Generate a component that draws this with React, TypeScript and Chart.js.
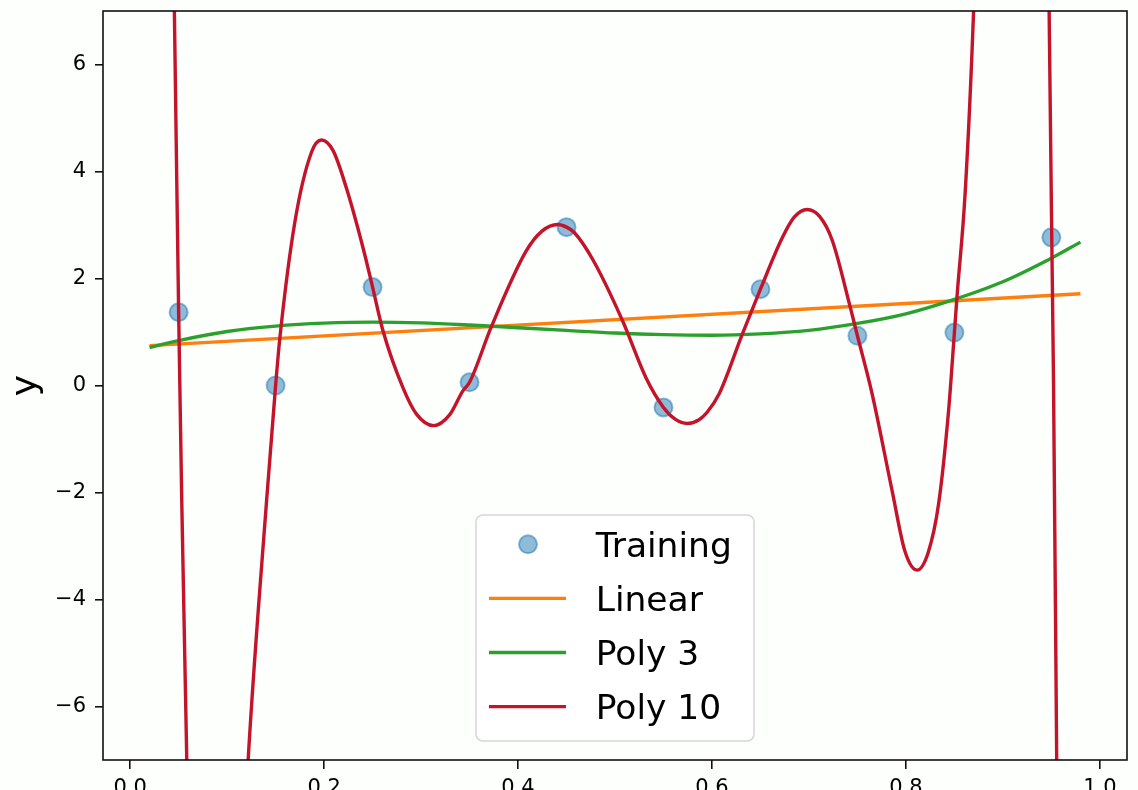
import React, { useEffect, useRef } from "react";
import { Chart, registerables } from "chart.js";

Chart.register(...registerables);

// ---- data ----
const trainX = [0.05, 0.15, 0.25, 0.35, 0.45, 0.55, 0.65, 0.75, 0.85, 0.95];
const trainY = [1.37, 0.0, 1.84, 0.06, 2.96, -0.41, 1.8, 0.93, 0.99, 2.77];

const linearX = [0.02, 0.98];
const linearY = [0.745, 1.715];

const poly3X = [0.02, 0.05, 0.1, 0.15, 0.2, 0.25, 0.3, 0.35, 0.4, 0.45, 0.5, 0.55, 0.6, 0.65, 0.7, 0.75, 0.8, 0.85, 0.9, 0.95, 0.98];
const poly3Y = [0.71, 0.84, 1.01, 1.11, 1.165, 1.185, 1.17, 1.13, 1.08, 1.03, 0.98, 0.95, 0.94, 0.965, 1.03, 1.16, 1.34, 1.61, 1.94, 2.38, 2.68];

const poly10X = [
  0.02, 0.03, 0.04, 0.0456, 0.05, 0.0532, 0.0584, 0.07, 0.085, 0.1, 0.112, 0.1218,
  0.1407, 0.15, 0.1544, 0.17, 0.187, 0.1973, 0.2093, 0.223, 0.2402, 0.25, 0.2608,
  0.2813, 0.2951, 0.3129, 0.3294, 0.3431, 0.35, 0.3723, 0.4083, 0.425, 0.4409, 0.45,
  0.458, 0.4769, 0.5078, 0.5318, 0.55, 0.562, 0.5747, 0.5867, 0.595, 0.6073, 0.6313,
  0.65, 0.6725, 0.685, 0.6982, 0.711, 0.7239, 0.7428, 0.75, 0.7651, 0.7857, 0.799,
  0.8114, 0.823, 0.8338, 0.8441, 0.85, 0.8526, 0.8612, 0.8698, 0.88, 0.9, 0.92,
  0.935, 0.944, 0.9477, 0.9504, 0.9522, 0.9555, 0.96, 0.97, 0.98,
];
const poly10Y = [
  80, 35, 14, 7, 1.37, -2.15, -7, -15, -17.5, -15, -10.5, -6.96,
  -2.15, 0.0, 0.89, 3.07, 4.36, 4.59, 4.39, 3.69, 2.57, 1.84, 1.02,
  -0.04, -0.53, -0.75, -0.55, -0.1, 0.06, 1.09, 2.51, 2.89, 3.01, 2.96,
  2.86, 2.36, 1.21, 0.15, -0.41, -0.63, -0.71, -0.64, -0.5, -0.16, 0.96,
  1.8, 2.76, 3.15, 3.29, 3.16, 2.72, 1.45, 0.93, -0.15, -1.96, -3.1,
  -3.45, -3.12, -2.2, -0.45, 0.99, 1.64, 3.63, 7, 13, 27, 30,
  24, 13, 7, 2.77, 0.1, -7, -16, -38, -75,
];

const xTicks = [0, 0.2, 0.4, 0.6, 0.8, 1.0];
const yTicks = [-6, -4, -2, 0, 2, 4, 6];
const seriesNames = ["Training", "Linear", "Poly 3", "Poly 10"];

const C_TRAIN = "rgba(31,119,180,0.5)";
const C_LIN = "#ff7f0e";
const C_P3 = "#2ca02c";
const C_P10 = "#c4142b";
const FONT = '"DejaVu Sans", "Liberation Sans", sans-serif';
const LW = 3.4;

const zip = (xs: number[], ys: number[]) => xs.map((x, i) => ({ x, y: ys[i] }));

const bgPlugin = {
  id: "bg",
  beforeDraw(chart: any) {
    const { ctx, width, height } = chart;
    ctx.save();
    ctx.fillStyle = "#fdfffd";
    ctx.fillRect(0, 0, width, height);
    ctx.restore();
  },
};

const framePlugin = {
  id: "frame",
  afterDatasetsDraw(chart: any) {
    const { ctx, chartArea: a } = chart;
    ctx.save();
    ctx.strokeStyle = "#111";
    ctx.lineWidth = 1.6;
    ctx.strokeRect(a.left, a.top, a.right - a.left, a.bottom - a.top);
    ctx.restore();
  },
};

const legendPlugin = {
  id: "mplLegend",
  afterDraw(chart: any) {
    const { ctx, chartArea: a } = chart;
    const w = 278;
    const h = 226;
    const left = (a.left + a.right) / 2 - w / 2;
    const top = a.bottom - 19 - h;
    ctx.save();
    ctx.beginPath();
    (ctx as any).roundRect(left, top, w, h, 7);
    ctx.fillStyle = "rgba(255,255,255,0.85)";
    ctx.fill();
    ctx.strokeStyle = "#d6d6d6";
    ctx.lineWidth = 1.5;
    ctx.stroke();
    const styles = [
      { kind: "pt", color: C_TRAIN },
      { kind: "ln", color: C_LIN },
      { kind: "ln", color: C_P3 },
      { kind: "ln", color: C_P10 },
    ];
    ctx.font = `34.5px ${FONT}`;
    ctx.textBaseline = "alphabetic";
    ctx.textAlign = "left";
    styles.forEach((s, i) => {
      const cy = top + 29.3 + i * 54.1;
      if (s.kind === "pt") {
        ctx.beginPath();
        ctx.arc(left + 52, cy, 9, 0, Math.PI * 2);
        ctx.fillStyle = C_TRAIN;
        ctx.fill();
        ctx.lineWidth = 2;
        ctx.strokeStyle = C_TRAIN;
        ctx.stroke();
      } else {
        ctx.beginPath();
        ctx.moveTo(left + 13, cy);
        ctx.lineTo(left + 90, cy);
        ctx.lineWidth = LW;
        ctx.strokeStyle = s.color;
        ctx.stroke();
      }
      ctx.fillStyle = "#000";
      ctx.fillText(seriesNames[i], left + 119.7, cy + 12.4);
    });
    ctx.restore();
  },
};

export default function App() {
  const ref = useRef<HTMLCanvasElement | null>(null);
  useEffect(() => {
    if (!ref.current) return;
    const chart = new Chart(ref.current, {
      type: "line",
      data: {
        datasets: [
          {
            label: seriesNames[0],
            data: zip(trainX, trainY),
            showLine: false,
            pointRadius: 9,
            pointBorderWidth: 2,
            pointBackgroundColor: C_TRAIN,
            pointBorderColor: C_TRAIN,
            order: 4,
          },
          {
            label: seriesNames[1],
            data: zip(linearX, linearY),
            borderColor: C_LIN,
            borderWidth: LW,
            pointRadius: 0,
            order: 3,
          },
          {
            label: seriesNames[2],
            data: zip(poly3X, poly3Y),
            borderColor: C_P3,
            borderWidth: LW,
            pointRadius: 0,
            cubicInterpolationMode: "monotone",
            order: 2,
          },
          {
            label: seriesNames[3],
            data: zip(poly10X, poly10Y),
            borderColor: C_P10,
            borderWidth: LW,
            pointRadius: 0,
            cubicInterpolationMode: "monotone",
            order: 1,
          },
        ],
      },
      options: {
        animation: false,
        responsive: false,
        devicePixelRatio: 1,
        layout: { padding: { left: 0, top: 10, right: 9, bottom: 0 } },
        plugins: { legend: { display: false }, tooltip: { enabled: false } },
        scales: {
          x: {
            type: "linear",
            min: -0.028,
            max: 1.028,
            afterBuildTicks: (s: any) => {
              s.ticks = xTicks.map((v) => ({ value: v }));
            },
            afterFit: (s: any) => {
              s.height = 30;
              s.paddingLeft = 0;
              s.paddingRight = 0;
              s.paddingTop = 0;
              s.paddingBottom = 0;
            },
            grid: {
              display: true,
              drawOnChartArea: false,
              drawTicks: true,
              tickLength: 9,
              color: "#111",
              lineWidth: 1.6,
            },
            border: { display: false },
            ticks: {
              padding: 7,
              color: "#000",
              font: { family: FONT, size: 21 },
              maxRotation: 0,
              autoSkip: false,
              callback: (v: any) => Number(v).toFixed(1),
            },
          },
          y: {
            type: "linear",
            min: -7,
            max: 7,
            afterBuildTicks: (s: any) => {
              s.ticks = yTicks.map((v) => ({ value: v }));
            },
            afterFit: (s: any) => {
              s.width = 103;
              s.paddingLeft = 0;
              s.paddingRight = 0;
              s.paddingTop = 0;
              s.paddingBottom = 0;
            },
            grid: {
              display: true,
              drawOnChartArea: false,
              drawTicks: true,
              tickLength: 8,
              color: "#111",
              lineWidth: 1.6,
            },
            border: { display: false },
            title: {
              display: true,
              text: "y",
              color: "#000",
              font: { family: FONT, size: 36 },
              padding: { top: 5, bottom: 0 },
            },
            ticks: {
              padding: 9,
              color: "#000",
              font: { family: FONT, size: 21 },
              autoSkip: false,
              callback: (v: any) => String(v).replace("-", "\u2212"),
            },
          },
        },
      },
      plugins: [bgPlugin, framePlugin, legendPlugin],
    });
    return () => chart.destroy();
  }, []);
  return (
    <div style={{ position: "fixed", left: 0, top: 0, width: 1138, height: 790, background: "#fdfffd" }}>
      <canvas ref={ref} width={1138} height={790} style={{ display: "block" }} />
    </div>
  );
}
